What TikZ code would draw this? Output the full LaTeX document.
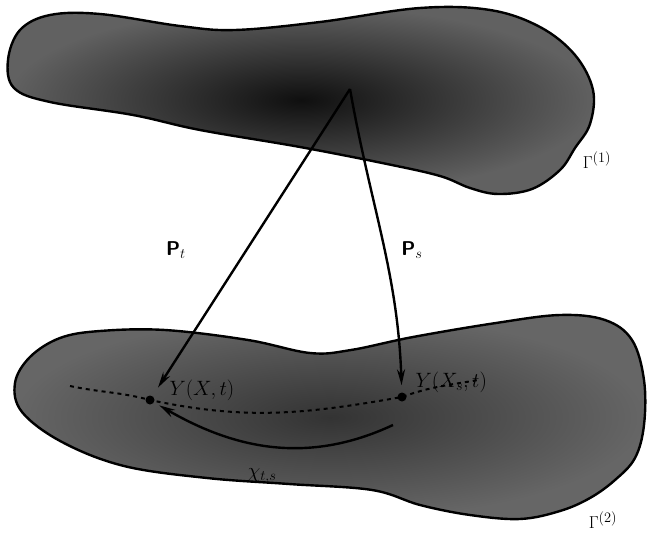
\documentclass[tikz,border=0pt]{standalone}
\usepackage{fontspec}
\usetikzlibrary{arrows.meta}

\begin{document}
\begin{tikzpicture}
[
    x=1pt, y=-1pt,
    blob/.style={draw=black, line width=2.4pt},
    maparrow/.style={line width=2.4pt, -{Stealth[length=16pt,width=8pt]}},
    pointdot/.style={circle, fill=black, inner sep=0pt, minimum size=9pt},
    maplabel/.style={font=\fontsize{20}{24}\selectfont\sffamily\bfseries},
    ylabel/.style={font=\fontsize{22}{26}\selectfont},
    surflabel/.style={font=\fontsize{19}{22}\selectfont}
]
    \useasboundingbox (0,0) rectangle (647,537);

    % upper surface
    \draw[blob, inner color=black!94, outer color=black!62]
        plot[smooth cycle, tension=0.6] coordinates {
            (50,15) (100,14) (180,26) (235,30) (320,22) (420,8) (490,10)
            (540,27) (575,55) (593,90) (590,124) (575,148) (560,170)
            (532,189) (498,194) (470,188) (440,176) (387,164) (300,147)
            (200,130) (133,115) (50,102) (14,88) (8,60) (20,30)};
    \node[surflabel] (G1) at (597,160) {$\Gamma^{(1)}$};

    % lower surface
    \draw[blob, inner color=black!80, outer color=black!60]
        plot[smooth cycle, tension=0.6] coordinates {
            (100,331) (165,330) (248,340) (310,353) (351,350) (413,337)
            (496,323) (560,315) (605,320) (632,340) (644,380) (644,425)
            (635,458) (615,480) (590,498) (560,511) (520,519) (470,515)
            (420,505) (372,490) (289,484) (207,478) (124,466) (62,442)
            (22,412) (15,383) (30,357) (60,338)};
    \node[surflabel] (G2) at (603,520) {$\Gamma^{(2)}$};

    \coordinate (X) at (350,89);
    \node[pointdot] (Yt) at (150,400) {};
    \node[pointdot] (Ys) at (402,397) {};
    \coordinate (dl) at (70,386);
    \coordinate (dr) at (478,380);
    \coordinate (chis) at (393,425);

    % dotted track
    \draw[line width=2pt, dash pattern=on 4pt off 4pt]
        (dl) to[out=-12,in=165] (Yt.center)
             to[out=-12,in=190] (Ys.center)
             to[out=20,in=190] (dr);

    % maps
    \draw[maparrow, shorten >=10pt] (X) -- (Yt);
    \draw[maparrow, shorten >=7pt] (X) to[out=-80,in=92] (Ys);
    \draw[maparrow, shorten >=6pt] (chis) to[out=-155,in=-30] (Yt);

    \node[maplabel] (Pt) at (176,250) {P$_t$};
    \node[maplabel] (Ps) at (412,250) {P$_s$};
    \node[ylabel, anchor=south west] (lYt) at (166,404) {$Y(X,t)$};
    \node[ylabel, anchor=south west] (lYs) at (412,396) {$Y(X_s,t)$};
    \node[ylabel] (chi) at (262,476) {$\chi_{t,s}$};
\end{tikzpicture}
\end{document}
